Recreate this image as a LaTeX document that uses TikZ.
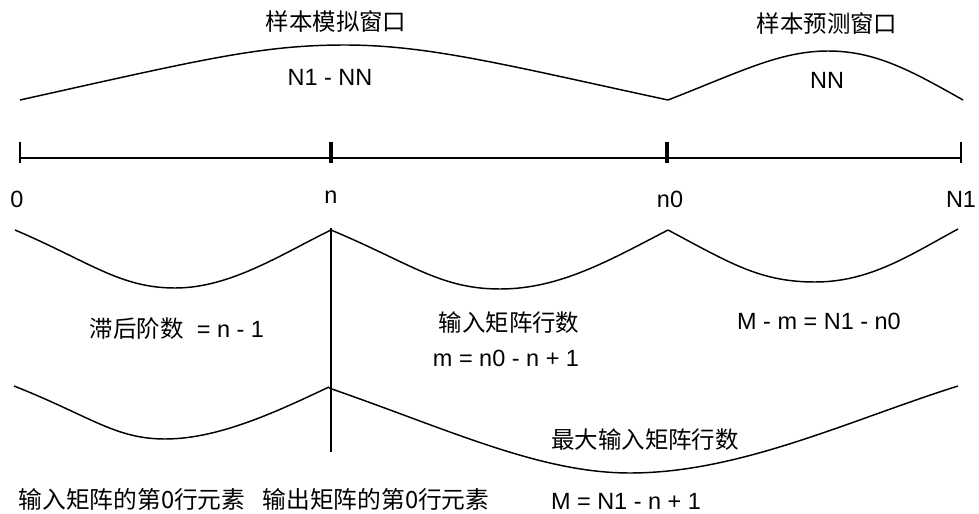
\documentclass[tikz,border=0pt]{standalone}
\usepackage{fontspec}
\setmainfont{Liberation Sans}
\newfontfamily\cjk{Noto Sans CJK SC}
\begin{document}
\begin{tikzpicture}[x=0.75pt,y=-0.75pt,
  curve/.style={line width=1.1pt,black},
  axisline/.style={line width=1.3pt,black},
  thintick/.style={line width=1.5pt,black},
  thicktick/.style={line width=3pt,black},
  lbl/.style={inner sep=0pt,font=\fontsize{17.6}{20}\selectfont},
  cjklbl/.style={inner sep=0pt,font=\fontsize{17.6}{20}\selectfont\cjk},
  botlbl/.style={inner sep=0pt,font=\fontsize{17.8}{21}\selectfont\cjk}]
\useasboundingbox (0,0) rectangle (979,514);

% time axis with its four marks
\coordinate (t0)  at (20,158);
\coordinate (tn)  at (331,158);
\coordinate (tn0) at (667,158);
\coordinate (tN1) at (961,158);
\draw[axisline] (t0) -- (tN1);
\draw[thintick]  ([yshift=-4]t0)  -- ([yshift=12]t0);
\draw[thicktick] ([yshift=-4]tn)  -- ([yshift=12]tn);
\draw[thicktick] ([yshift=-4]tn0) -- ([yshift=12]tn0);
\draw[thintick]  ([yshift=-4]tN1) -- ([yshift=12]tN1);

\node[lbl] (l0)  at (17,199)  {0};
\node[lbl] (ln)  at (331,197) {n};
\node[lbl] (ln0) at (670,199) {n0};
\node[lbl] (lN1) at (961,199) {N1};

% upper braces: simulation and prediction windows
\draw[curve] (20,100) .. controls (200,60) and (260,45) .. (345,45)
             .. controls (430,45) and (510,66) .. (668,100);
\draw[curve] (668,100) .. controls (740,72) and (780,51) .. (828,51)
             .. controls (875,51) and (910,70) .. (963,100);

\node[cjklbl] (simwin) at (336,22) {样本模拟窗口};
\node[lbl]    (simlen) at (330,77) {N1 - NN};
\node[cjklbl] (prewin) at (827,24) {样本预测窗口};
\node[lbl]    (prelen) at (827,80) {NN};

% middle braces: lag order, input rows, remainder
\draw[curve] (15,230) .. controls (90,262) and (120,288) .. (175,288)
             .. controls (230,288) and (280,255) .. (331,230);
\draw[curve] (331,230) .. controls (410,263) and (440,289) .. (500,289)
             .. controls (560,289) and (610,260) .. (668,230);
\draw[curve] (668,230) .. controls (730,263) and (760,282) .. (815,282)
             .. controls (870,282) and (910,255) .. (958,229);

\coordinate (vtop) at (331,228);
\coordinate (vbot) at (331,452);
\draw[curve] (vtop) -- (vbot);

\node[lbl] (lag) at (177,329) {{\cjk 滞后阶数}\ \ = n - 1};
\node[cjklbl] (rows) at (509,323) {输入矩阵行数};
\node[lbl] (rowsf) at (506,358) {m = n0 - n + 1};
\node[lbl] (rest) at (819,321) {M - m = N1 - n0};

% lower braces: maximum number of input rows
\draw[curve] (14,386) .. controls (90,416) and (115,439) .. (165,439)
             .. controls (220,439) and (280,410) .. (329,387);
\draw[curve] (329,388) .. controls (450,430) and (540,473) .. (630,473)
             .. controls (740,473) and (850,420) .. (958,386);

\node[cjklbl] (maxrows) at (645,440) {最大输入矩阵行数};
\node[lbl] (maxf) at (626,501) {M = N1 - n + 1};
\node[botlbl] (in0)  at (132,499) {输入矩阵的第0行元素};
\node[botlbl] (out0) at (376,499) {输出矩阵的第0行元素};
\end{tikzpicture}
\end{document}
